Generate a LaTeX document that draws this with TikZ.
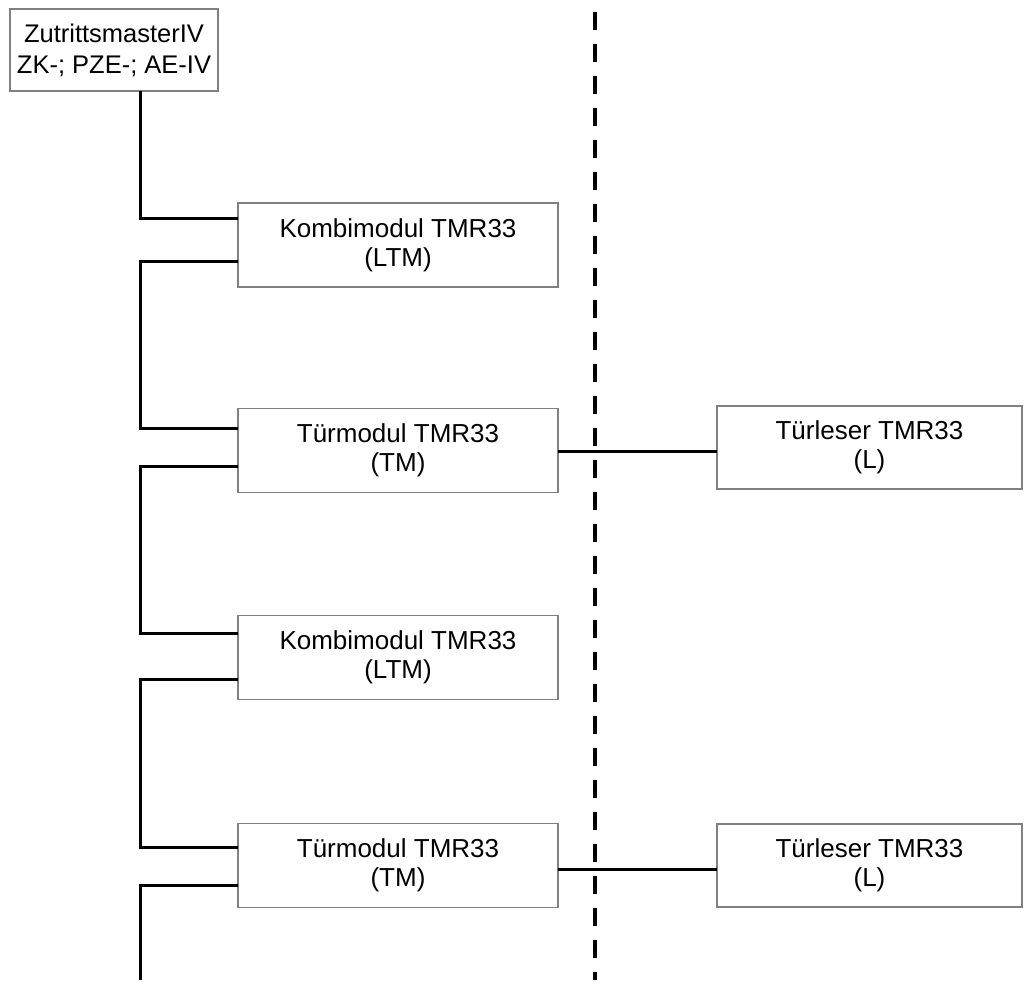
\documentclass[tikz,border=0pt]{standalone}
\usepackage{fontspec}
\setmainfont{Liberation Sans}
\begin{document}
\begin{tikzpicture}[x=1pt,y=-1pt,
  box/.style={draw=black!50, line width=1.8pt, fill=white, inner sep=0pt, outer sep=0pt,
    align=center, font=\fontsize{26}{29}\selectfont},
  modbox/.style={box, minimum width=320pt, minimum height=84pt},
  leserbox/.style={box, minimum width=305pt, minimum height=83pt},
  conn/.style={line width=3pt, black},
  sep/.style={line width=4pt, black, dash pattern=on 18pt off 14pt}]
\useasboundingbox[fill=white] (0,0) rectangle (1024,985);
% nodes
\node[box, minimum width=208pt, minimum height=82pt, font=\fontsize{25.5}{31}\selectfont] (top) at (114,50) {ZutrittsmasterIV\\ZK-; PZE-; AE-IV};
\node[modbox] (K1) at (398,245) {Kombimodul TMR33\\(LTM)};
\node[modbox] (T1) at (398,450.5) {Türmodul TMR33\\(TM)};
\node[leserbox] (L1) at (869.5,447.5) {Türleser TMR33\\(L)};
\node[modbox] (K2) at (398,657.5) {Kombimodul TMR33\\(LTM)};
\node[modbox] (T2) at (398,865.5) {Türmodul TMR33\\(TM)};
\node[leserbox] (L2) at (869.5,865.5) {Türleser TMR33\\(L)};
% separator
\coordinate (s1) at (595,12);
\coordinate (s2) at (595,980);
\draw[sep] (s1) -- (s2);
% bus coordinates
\coordinate (b1) at (140,218);
\coordinate (b2) at (140,261);
\coordinate (b3) at (140,428);
\coordinate (b4) at (140,466);
\coordinate (b5) at (140,633);
\coordinate (b6) at (140,679);
\coordinate (b7) at (140,847);
\coordinate (b8) at (140,885);
\coordinate (b9) at (140,980);
\coordinate (h1) at (0,451);
\coordinate (h2) at (0,869);
% connectors
\draw[conn] (top.south -| b1) -- (b1) -- (b1 -| K1.west);
\draw[conn] (K1.west |- b2) -- (b2) -- (b3) -- (b3 -| T1.west);
\draw[conn] (T1.west |- b4) -- (b4) -- (b5) -- (b5 -| K2.west);
\draw[conn] (K2.west |- b6) -- (b6) -- (b7) -- (b7 -| T2.west);
\draw[conn] (T2.west |- b8) -- (b8) -- (b9);
\draw[conn] (T1.east |- h1) -- (L1.west |- h1);
\draw[conn] (T2.east |- h2) -- (L2.west |- h2);
\end{tikzpicture}
\end{document}
